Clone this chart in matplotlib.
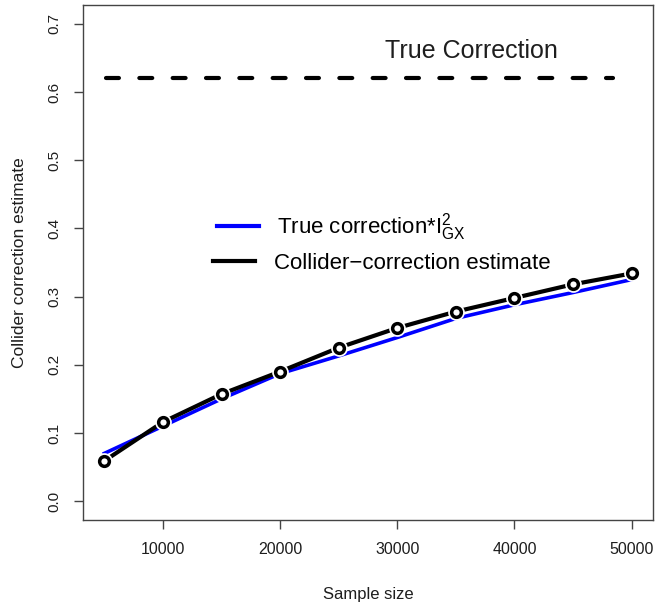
import matplotlib.pyplot as plt
from matplotlib.lines import Line2D
import numpy as np

plt.rcParams['font.family'] = ['Liberation Sans', 'DejaVu Sans']
plt.rcParams['mathtext.fontset'] = 'custom'
plt.rcParams['mathtext.rm'] = 'Liberation Sans'
plt.rcParams['mathtext.it'] = 'Liberation Sans'

sample_size = [5000, 10000, 15000, 20000, 25000, 30000, 35000, 40000, 45000, 50000]
true_scaled = [0.070, 0.110, 0.150, 0.187, 0.213, 0.240, 0.268, 0.288, 0.306, 0.325]
collider_est = [0.059, 0.116, 0.157, 0.190, 0.225, 0.254, 0.278, 0.298, 0.318, 0.334]
true_correction = 0.62
true_line_x = [5150, 48450]

xticks = [10000, 20000, 30000, 40000, 50000]
yticks = [0.0, 0.1, 0.2, 0.3, 0.4, 0.5, 0.6, 0.7]

fig = plt.figure(figsize=(6.66, 6.07), dpi=100)
ax = fig.add_axes([0.125, 0.143, 0.855, 0.849])

ink = '#1e1e1e'

ax.plot(true_line_x, [true_correction] * 2, color='black', lw=3,
        dashes=(3.1, 4.9), dash_capstyle='round')
ax.text(36300, 0.661, 'True Correction', fontsize=18, ha='center', va='center', color=ink)

ax.plot(sample_size, true_scaled, color='#0000ff', lw=2.6, zorder=3)
ax.plot(sample_size, collider_est, color='black', lw=3, zorder=4)
ax.plot(sample_size, collider_est, ls='none', marker='o', ms=11, mfc='white', mec='white', zorder=5)
ax.plot(sample_size, collider_est, ls='none', marker='o', ms=7, mfc='white', mec='black', mew=2.5,
        zorder=6)

ax.set_xlim(3200, 51800)
ax.set_ylim(-0.028, 0.728)
ax.set_xticks(xticks)
ax.set_yticks(yticks)
ax.set_xticklabels([str(v) for v in xticks], fontsize=11.5, color=ink)
ax.set_yticklabels([f'{v:.1f}' for v in yticks], fontsize=11, color=ink, rotation=90, va='center')
ax.tick_params(direction='out', length=6.5, width=1, color='#444444', pad=9)
for s in ax.spines.values():
    s.set_color('#444444')
    s.set_linewidth(1)

ax.set_xlabel('Sample size', fontsize=12, color=ink, labelpad=22)
ax.set_ylabel('Collider correction estimate', fontsize=12.5, color=ink, labelpad=15)

# two legend entries, each placed on its own as in the original
leg1 = ax.legend([Line2D([], [], color='#0000ff', lw=3)], [r'True correction*I$^2_{\mathrm{GX}}$'],
                 loc='center left', bbox_to_anchor=(0.235, 0.569), frameon=False, fontsize=16,
                 handlelength=1.9, handletextpad=0.8, borderaxespad=0, borderpad=0)
ax.add_artist(leg1)
ax.legend([Line2D([], [], color='black', lw=3)], ['Collider\u2212correction estimate'],
          loc='center left', bbox_to_anchor=(0.227, 0.499), frameon=False, fontsize=16,
          handlelength=1.9, handletextpad=0.85, borderaxespad=0, borderpad=0)

fig.savefig('out.png', dpi=100)
